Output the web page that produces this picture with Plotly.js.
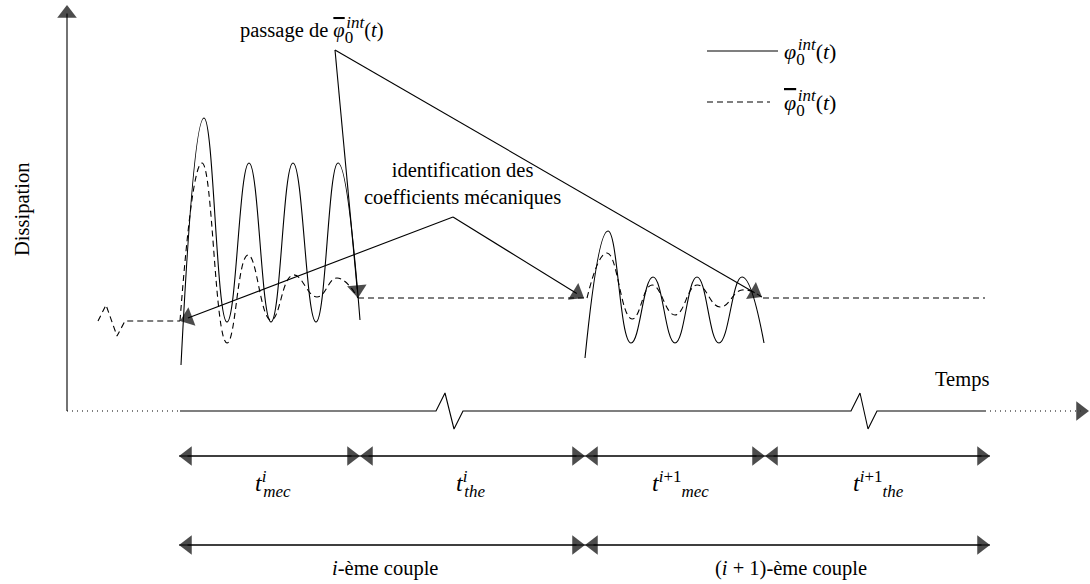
<!DOCTYPE html>
<html><head><meta charset="utf-8">
<script src="https://cdn.plot.ly/plotly-3.0.1.min.js"></script>
<style>html,body{margin:0;padding:0;background:#fff}</style>
</head><body>
<div id="chart" style="width:1090px;height:584px"></div>
<script>
// ---- data (schematic coordinates) ----
const solidMec1X = [181, 204, 227, 249, 271, 293, 316, 338, 360];
const solidMec1Y = [365, 118, 322, 163, 322, 163, 322, 163, 320];
const solidMec2X = [585, 608, 631, 653, 675, 697, 719, 742, 764];
const solidMec2Y = [358, 231, 343, 277, 343, 277, 343, 277, 343];

const dashWiggleX = [98, 106, 117, 125, 180];
const dashWiggleY = [321, 305, 336, 321, 321];
const dashMec1X = [180, 202, 227, 248, 271, 293, 317, 337, 358];
const dashMec1Y = [321, 163, 343, 255, 320, 275, 297, 278, 298];
const dashThe1X = [358, 587];
const dashThe1Y = [298, 298];
const dashMec2X = [587, 607, 632, 652, 675, 697, 720, 742, 763];
const dashMec2Y = [298, 253, 319, 285, 315, 285, 307, 290, 298];
const dashThe2X = [763, 985];
const dashThe2Y = [298, 298];

const valueAxisX = [67, 67];
const valueAxisY = [411, 5];
const timeAxisDotLeftX = [67, 180];
const timeAxisDotRightX = [985, 1089];
const timeAxisLevel = 411;
const timeAxisSolidX = [180, 436, 445, 454, 463, 851, 860, 868, 877, 985];
const timeAxisSolidY = [411, 411, 393, 429, 411, 411, 393, 429, 411, 411];

const periodBounds = [179, 360, 585, 765, 990];
const periodLevel = 456;
const periodSup = ["i", "i", "i+1", "i+1"];
const periodSub = ["mec", "the", "mec", "the"];
const coupleBounds = [179, 585, 990];
const coupleLevel = 545;
const coupleLabels = ["<i>i</i>-ème couple", "(<i>i</i> + 1)-ème couple"];

const passageApex = [335, 50];
const passageTargetsX = [358, 762];
const passageTargetsY = [298, 297];
const identApex = [453, 217];
const identTargetsX = [180, 584];
const identTargetsY = [321, 298];

const legendSolidX = [707, 778];
const legendSolidY = [51, 51];
const legendDashX = [707, 770];
const legendDashY = [102, 102];

// ---- helpers ----
const FONT = '"Liberation Serif", "Times New Roman", serif';
const AH = 17;
function lineTrace(x, y, dash, shape) {
  return {type: 'scatter', mode: 'lines', x: x, y: y, cliponaxis: false,
    hoverinfo: 'skip', showlegend: false,
    line: {color: 'black', width: 1.1, dash: dash || 'solid', shape: shape || 'linear', smoothing: 1.3}};
}
function arrowTrace(x, y, sizes) {
  return {type: 'scatter', mode: 'lines+markers', x: x, y: y, cliponaxis: false,
    hoverinfo: 'skip', showlegend: false,
    line: {color: 'black', width: 1.1},
    marker: {symbol: 'triangle-up', angleref: 'previous', standoff: AH / 2,
             size: sizes, color: 'black', line: {width: 0}}};
}

const traces = [];
traces.push(lineTrace(solidMec1X, solidMec1Y, 'solid', 'spline'));
traces.push(lineTrace(solidMec2X, solidMec2Y, 'solid', 'spline'));
const DASH = '6px,4px';
traces.push(lineTrace(dashWiggleX, dashWiggleY, DASH));
traces.push(lineTrace(dashMec1X, dashMec1Y, DASH, 'spline'));
traces.push(lineTrace(dashThe1X, dashThe1Y, DASH));
traces.push(lineTrace(dashMec2X, dashMec2Y, DASH, 'spline'));
traces.push(lineTrace(dashThe2X, dashThe2Y, DASH));

// axes
traces.push(arrowTrace(valueAxisX, valueAxisY, [0, AH]));
traces.push(lineTrace(timeAxisDotLeftX, [timeAxisLevel, timeAxisLevel], '1px,4px'));
traces.push(lineTrace(timeAxisSolidX, timeAxisSolidY));
const tArrow = arrowTrace(timeAxisDotRightX, [timeAxisLevel, timeAxisLevel], [0, AH]);
tArrow.line.dash = '1px,4px';
traces.push(tArrow);

// double arrows
for (let i = 0; i < periodBounds.length - 1; i++) {
  traces.push(arrowTrace([periodBounds[i], periodBounds[i + 1], periodBounds[i]],
                         [periodLevel, periodLevel, periodLevel], [0, AH, AH]));
}
for (let i = 0; i < coupleBounds.length - 1; i++) {
  traces.push(arrowTrace([coupleBounds[i], coupleBounds[i + 1], coupleBounds[i]],
                         [coupleLevel, coupleLevel, coupleLevel], [0, AH, AH]));
}
// leader arrows
for (let i = 0; i < passageTargetsX.length; i++) {
  traces.push(arrowTrace([passageApex[0], passageTargetsX[i]], [passageApex[1], passageTargetsY[i]], [0, AH]));
}
for (let i = 0; i < identTargetsX.length; i++) {
  traces.push(arrowTrace([identApex[0], identTargetsX[i]], [identApex[1], identTargetsY[i]], [0, AH]));
}
// legend lines
traces.push(lineTrace(legendSolidX, legendSolidY));
traces.push(lineTrace(legendDashX, legendDashY, DASH));

// ---- text ----
const TS = 20.5;
const SS = 17; // script size
// span with explicit size, vertical shift, optional italic and letter-spacing (to stack scripts)
function sp(text, shift, italic, ls) {
  let s = 'font-size:' + SS + 'px;baseline-shift:' + shift + 'px';
  if (italic) s += ';font-style:italic';
  if (ls) s += ';letter-spacing:' + ls + 'px';
  return '<span style="' + s + '">' + text + '</span>';
}
const UP = 9, DOWN = -6;
function phiText(bar) {
  const phi = bar ? '<span style="text-decoration:overline"><i>φ</i></span>' : '<i>φ</i>';
  return phi + sp('0', DOWN, false, -7) + sp('int', UP, true) + '(<i>t</i>)';
}
function tText(sup, sub) {
  let s = '<i>t</i>';
  if (sup === 'i') s += sp('i', UP, true, -3.2);
  else s += sp('i', UP, true) + sp('+1', UP, false);
  s += sp(sub, DOWN, true);
  return s;
}
function txt(x, y, text, size, extra) {
  return Object.assign({xref: 'x', yref: 'y', x: x, y: y, text: text, showarrow: false,
    font: {family: FONT, size: size || TS, color: 'black'}}, extra || {});
}
const L = {xanchor: 'left'};
const annotations = [
  txt(238, 30, 'passage de ' + phiText(true), TS, L),
  txt(782, 52, phiText(false), 22, L),
  txt(782, 103, phiText(true), 22, L),
  txt(462, 184, 'identification des<br>coefficients mécaniques'),
  txt(22, 210, 'Dissipation', TS, {textangle: -90}),
  txt(962, 379, 'Temps'),
];
const periodCentres = [273, 470, 680, 878];
for (let i = 0; i < periodSup.length; i++) {
  annotations.push(txt(periodCentres[i], 484, tText(periodSup[i], periodSub[i]), 24));
}
for (let i = 0; i < coupleLabels.length; i++) {
  annotations.push(txt((coupleBounds[i] + coupleBounds[i + 1]) / 2 + 3, 568, coupleLabels[i]));
}

const layout = {
  width: 1090, height: 584,
  margin: {l: 0, r: 0, t: 0, b: 0},
  paper_bgcolor: 'white', plot_bgcolor: 'white',
  showlegend: false,
  xaxis: {range: [0, 1090], visible: false, fixedrange: true},
  yaxis: {range: [584, 0], visible: false, fixedrange: true},
  annotations: annotations,
  font: {family: FONT}
};
Plotly.newPlot('chart', traces, layout, {staticPlot: true, displayModeBar: false});
</script>
</body></html>
